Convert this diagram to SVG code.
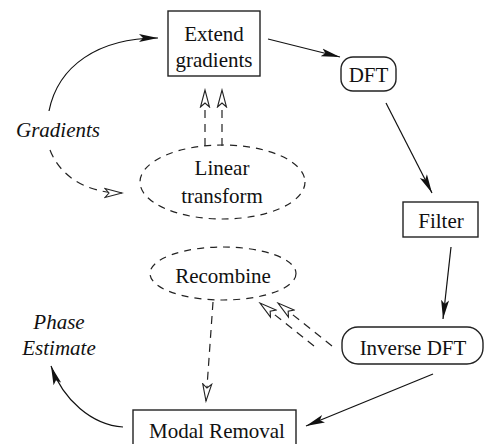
<svg xmlns="http://www.w3.org/2000/svg" width="484" height="444" viewBox="0 0 484 444">
<style>
.t{font-family:'Liberation Serif','DejaVu Serif',serif;font-size:21px;fill:#111;text-anchor:middle}
.i{font-style:italic}
.box{fill:#fff;stroke:#222;stroke-width:1.4}
.dash{fill:none;stroke:#222;stroke-width:1.2;stroke-dasharray:8 6}
.solid{fill:none;stroke:#111;stroke-width:1.2}
.open{fill:none;stroke:#222;stroke-width:1.2;stroke-dasharray:7 6}
</style>
<defs>
<marker id="fa" viewBox="0 -5 20 10" refX="19" refY="0" markerWidth="20" markerHeight="10" markerUnits="userSpaceOnUse" orient="auto">
<path d="M0,-4 L19,0 L0,4 L4,0 Z" fill="#111"/>
</marker>
<marker id="oa" viewBox="-1 -6 20 12" refX="17" refY="0" markerWidth="20" markerHeight="12" markerUnits="userSpaceOnUse" orient="auto">
<path d="M0,-4.5 L17,0 L0,4.5 L4,0 Z" fill="#fff" stroke="#222" stroke-width="1.1" stroke-linejoin="miter"/>
</marker>
</defs>
<rect width="484" height="444" fill="#fff"/>
<g id="connectors">
<path class="solid" d="M49,111 C58,66 98,38 158,38" marker-end="url(#fa)"/>
<path class="dash" d="M50,150 C60,176 86,193 122,193" marker-end="url(#oa)"/>
<path class="dash" d="M205,146 L205,90" marker-end="url(#oa)"/>
<path class="dash" d="M222,146 L222,90" marker-end="url(#oa)"/>
<path class="solid" d="M268,39 L340,57" marker-end="url(#fa)"/>
<path class="solid" d="M386,103 L432,193" marker-end="url(#fa)"/>
<path class="solid" d="M451,247 L443,319" marker-end="url(#fa)"/>
<path class="dash" d="M314,346 L260,303" marker-end="url(#oa)"/>
<path class="dash" d="M332,346 L278,303" marker-end="url(#oa)"/>
<path class="dash" d="M213,302 L206,401" marker-end="url(#oa)"/>
<path class="solid" d="M433,374 L306,426" marker-end="url(#fa)"/>
<path class="solid" d="M123,427 C92,425 63,400 51,366" marker-end="url(#fa)"/>
</g>
<g id="extend">
<rect class="box" x="168" y="11" width="92" height="65"/>
<text class="t" font-family="Liberation Serif" x="214" y="41">Extend</text>
<text class="t" font-family="Liberation Serif" x="214" y="67">gradients</text>
</g>
<g id="dft">
<rect class="box" x="341" y="57" width="55" height="34" rx="12"/>
<text class="t" font-family="Liberation Serif" x="368.5" y="82">DFT</text>
</g>
<g id="filter">
<rect class="box" x="403" y="202" width="75" height="35"/>
<text class="t" font-family="Liberation Serif" x="441" y="228">Filter</text>
</g>
<g id="inverse">
<rect class="box" x="342" y="327" width="141" height="37" rx="16"/>
<text class="t" font-family="Liberation Serif" x="413" y="355">Inverse DFT</text>
</g>
<g id="modal">
<rect class="box" x="133" y="410" width="163" height="40"/>
<text class="t" font-family="Liberation Serif" x="217" y="438">Modal Removal</text>
</g>
<g id="linear">
<ellipse class="open" cx="222.5" cy="182" rx="82.5" ry="37"/>
<text class="t" font-family="Liberation Serif" x="222" y="175">Linear</text>
<text class="t" font-family="Liberation Serif" x="222" y="203">transform</text>
</g>
<g id="recombine">
<ellipse class="open" cx="223" cy="273.5" rx="73" ry="26.5"/>
<text class="t" font-family="Liberation Serif" x="223" y="283">Recombine</text>
</g>
<g id="gradients">
<text class="t i" font-family="Liberation Serif" x="58" y="137">Gradients</text>
</g>
<g id="phase">
<text class="t i" font-family="Liberation Serif" x="59" y="329">Phase</text>
<text class="t i" font-family="Liberation Serif" x="59" y="355">Estimate</text>
</g>
</svg>
